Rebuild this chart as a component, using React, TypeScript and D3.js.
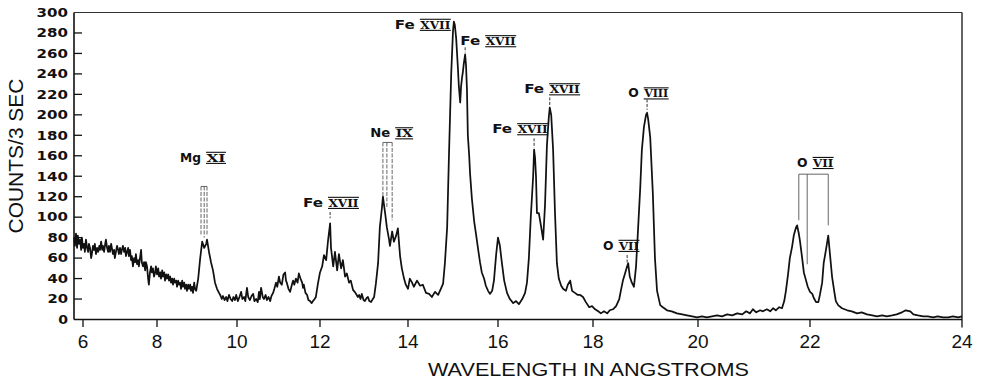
import React from "react";
import * as d3 from "d3";

// X-ray spectrum: counts per 3 s against wavelength in Å
const spectrumShort: [number, number][] = [
  [5.76, 80], [5.78, 72], [5.81, 84], [5.84, 70], [5.86, 82], [5.89, 74], [5.92, 78], [5.95, 68],
  [5.97, 80], [6.0, 70], [6.03, 74], [6.05, 66], [6.08, 78], [6.11, 70], [6.14, 66], [6.16, 74],
  [6.19, 70], [6.22, 60], [6.24, 64], [6.27, 72], [6.3, 68], [6.32, 74], [6.35, 64], [6.38, 70],
  [6.41, 66], [6.44, 72], [6.46, 68], [6.49, 76], [6.52, 68], [6.54, 72], [6.57, 66], [6.6, 74],
  [6.62, 78], [6.65, 70], [6.68, 66], [6.7, 72], [6.73, 66], [6.76, 74], [6.78, 70], [6.81, 64],
  [6.84, 68], [6.86, 60], [6.89, 66], [6.92, 72], [6.95, 68], [6.97, 64], [7.0, 70], [7.03, 64],
  [7.05, 68], [7.08, 72], [7.11, 66], [7.14, 70], [7.16, 62], [7.19, 66], [7.22, 70], [7.24, 62],
  [7.27, 68], [7.3, 58], [7.32, 62], [7.35, 52], [7.38, 60], [7.41, 56], [7.43, 64], [7.46, 54],
  [7.49, 58], [7.51, 52], [7.54, 60], [7.57, 68], [7.59, 56], [7.62, 52], [7.65, 56], [7.68, 48],
  [7.7, 56], [7.73, 52], [7.76, 40], [7.78, 34], [7.81, 46], [7.84, 52], [7.86, 46], [7.89, 50],
  [7.92, 42], [7.95, 46], [7.97, 52], [8.0, 44], [8.03, 50], [8.05, 42], [8.08, 46], [8.1, 40],
  [8.13, 48], [8.15, 42], [8.18, 46], [8.2, 38], [8.23, 44], [8.25, 40], [8.28, 44], [8.3, 38],
  [8.33, 42], [8.35, 36], [8.38, 40], [8.4, 34], [8.43, 40], [8.45, 36], [8.48, 38], [8.5, 32],
  [8.53, 38], [8.55, 34], [8.58, 36], [8.6, 30], [8.63, 38], [8.65, 32], [8.68, 36], [8.7, 30],
  [8.73, 34], [8.75, 28], [8.78, 34], [8.8, 30], [8.83, 34], [8.85, 28], [8.88, 32], [8.9, 26],
  [8.93, 36], [8.95, 30], [8.98, 28], [9.03, 40], [9.08, 60], [9.13, 76], [9.18, 70], [9.23, 74],
  [9.25, 78], [9.3, 66], [9.35, 56], [9.4, 48], [9.45, 36], [9.5, 30], [9.55, 26],
  [9.58, 24], [9.62, 20], [9.65, 23], [9.69, 19], [9.73, 22], [9.76, 18], [9.8, 24], [9.84, 20],
  [9.88, 18], [9.91, 22], [9.95, 19], [9.98, 24],
];

const spectrumMid: [number, number][] = [
  [10.02, 18], [10.06, 22], [10.1, 27], [10.13, 20], [10.17, 22], [10.2, 18], [10.24, 31], [10.27, 22],
  [10.31, 19], [10.35, 23], [10.39, 25], [10.42, 18], [10.46, 20], [10.5, 17], [10.53, 27], [10.55, 20],
  [10.58, 31], [10.62, 22], [10.65, 20], [10.69, 24], [10.72, 19], [10.76, 22], [10.8, 18], [10.83, 23],
  [10.87, 26], [10.9, 30], [10.94, 36], [10.97, 32], [11.01, 42], [11.04, 36], [11.08, 34], [11.12, 44],
  [11.16, 46], [11.18, 38], [11.2, 36], [11.24, 30], [11.28, 27], [11.31, 32], [11.35, 38], [11.38, 34],
  [11.42, 40], [11.46, 36], [11.49, 45], [11.53, 40], [11.57, 36], [11.59, 31], [11.61, 34], [11.65, 26],
  [11.69, 24], [11.72, 19], [11.76, 18], [11.8, 16], [11.83, 18], [11.87, 20], [11.9, 22], [11.95, 35],
  [12.0, 46], [12.05, 52], [12.09, 63], [12.14, 58], [12.18, 76], [12.23, 94], [12.25, 70], [12.3, 52],
  [12.34, 66], [12.39, 48], [12.43, 64], [12.48, 50], [12.52, 58], [12.57, 42], [12.61, 45], [12.66, 36],
  [12.7, 38], [12.75, 29], [12.79, 27], [12.82, 25], [12.86, 22], [12.89, 24], [12.92, 20], [12.95, 25],
  [12.99, 19], [13.02, 18], [13.06, 21], [13.09, 22], [13.12, 18], [13.16, 17], [13.2, 20],
  [13.23, 22], [13.27, 35], [13.32, 55], [13.36, 90], [13.41, 110], [13.43, 120], [13.48, 104], [13.52, 90],
  [13.57, 78], [13.59, 72], [13.64, 86], [13.68, 76], [13.73, 82], [13.77, 89], [13.82, 62], [13.86, 50],
  [13.91, 40], [13.95, 34],
  [14.0, 30], [14.04, 40], [14.09, 36], [14.13, 32], [14.2, 38], [14.27, 33], [14.33, 34], [14.4, 26],
  [14.47, 25], [14.53, 22], [14.6, 27], [14.67, 24], [14.73, 30], [14.78, 35], [14.82, 55], [14.87, 90],
  [14.91, 160], [14.96, 240], [15.0, 282], [15.02, 291], [15.04, 288], [15.07, 275], [15.11, 245], [15.13, 228],
  [15.16, 212], [15.18, 228], [15.2, 236], [15.22, 242], [15.24, 250], [15.27, 259], [15.29, 248], [15.31, 225],
  [15.33, 180], [15.36, 160], [15.38, 142], [15.42, 118], [15.47, 96], [15.51, 84], [15.56, 68], [15.6, 56],
  [15.64, 46], [15.69, 40], [15.73, 33], [15.78, 28], [15.82, 25], [15.87, 28], [15.91, 38], [15.96, 64],
];

const spectrumLong: [number, number][] = [
  [16.0, 80], [16.04, 72], [16.08, 56], [16.13, 38], [16.19, 26], [16.25, 20], [16.32, 16], [16.38, 18],
  [16.44, 15], [16.51, 20], [16.57, 26], [16.61, 36], [16.65, 60], [16.69, 100], [16.74, 140], [16.76, 166],
  [16.78, 158], [16.8, 140], [16.82, 104], [16.86, 104], [16.91, 90], [16.95, 78], [16.99, 112], [17.03, 170],
  [17.07, 198], [17.09, 207], [17.12, 200], [17.16, 166], [17.2, 104], [17.24, 55], [17.28, 40], [17.33, 33],
  [17.37, 30], [17.43, 28], [17.47, 34], [17.52, 38], [17.56, 28], [17.62, 26], [17.68, 24], [17.73, 24],
  [17.79, 22], [17.85, 17], [17.92, 12], [17.98, 13],
  [18.04, 10], [18.1, 8], [18.15, 6], [18.21, 8], [18.27, 6], [18.32, 9], [18.38, 10], [18.44, 13],
  [18.5, 20], [18.53, 28], [18.57, 38], [18.61, 45], [18.65, 52], [18.67, 55], [18.7, 42], [18.74, 36],
  [18.78, 32], [18.82, 52], [18.86, 90], [18.9, 129], [18.93, 165], [18.97, 188], [19.01, 200], [19.03, 202],
  [19.05, 196], [19.09, 178], [19.12, 145], [19.14, 123], [19.18, 60], [19.22, 28], [19.28, 14], [19.33, 12],
  [19.41, 9], [19.5, 8], [19.6, 6], [19.7, 5], [19.79, 4], [19.89, 3], [19.98, 2],
  [20.07, 3], [20.16, 2], [20.25, 3], [20.34, 4], [20.43, 3], [20.52, 5], [20.61, 4], [20.7, 6],
  [20.79, 5], [20.86, 8], [20.93, 6], [20.98, 10], [21.04, 7], [21.11, 9], [21.16, 8], [21.23, 10],
  [21.29, 8], [21.34, 11], [21.39, 9], [21.45, 12], [21.5, 11], [21.54, 18], [21.57, 28], [21.61, 45],
  [21.64, 60], [21.68, 71], [21.71, 82], [21.75, 90], [21.77, 92], [21.8, 84], [21.82, 77], [21.86, 60],
  [21.89, 46], [21.93, 38], [21.96, 32],
  [22.0, 27], [22.03, 25], [22.05, 21], [22.08, 17], [22.11, 17], [22.13, 24], [22.16, 36], [22.18, 55],
  [22.21, 68], [22.24, 82], [22.26, 66], [22.29, 42], [22.32, 27], [22.34, 18], [22.37, 14], [22.42, 11],
  [22.49, 9], [22.55, 8], [22.62, 6], [22.68, 7], [22.75, 5], [22.82, 4], [22.88, 3], [22.95, 4],
  [23.01, 3], [23.08, 4], [23.14, 5], [23.21, 7], [23.26, 9], [23.32, 8], [23.36, 5], [23.42, 4],
  [23.49, 3], [23.55, 3], [23.62, 2], [23.68, 3], [23.75, 2], [23.82, 2], [23.88, 3], [23.95, 2],
  [24.0, 3],
];

const xTickValues = [6, 8, 10, 12, 14, 16, 18, 20, 22, 24];
const yTickValues = [0, 20, 40, 60, 80, 100, 120, 140, 160, 180, 200, 220, 240, 260, 280, 300];

// Ion identifications: element, ionisation stage, label anchor (Å, counts)
const ionLabels: { el: string; stage: string; at: [number, number] }[] = [
  { el: "Mg", stage: "XI", at: [8.575, 154] },
  { el: "Fe", stage: "XVII", at: [11.59, 110] },
  { el: "Ne", stage: "IX", at: [13.14, 178] },
  { el: "Fe", stage: "XVII", at: [13.7, 284] },
  { el: "Fe", stage: "XVII", at: [15.16, 268] },
  { el: "Fe", stage: "XVII", at: [15.87, 182] },
  { el: "Fe", stage: "XVII", at: [16.55, 221] },
  { el: "O", stage: "VII", at: [18.19, 68] },
  { el: "O", stage: "VIII", at: [18.67, 217] },
  { el: "O", stage: "VII", at: [21.77, 149] },
];

// Single-line markers: wavelength, upper and lower count
const lineMarks: [number, number, number][] = [
  [12.23, 105, 99],
  [15.27, 266, 261],
  [16.76, 177, 168],
  [17.09, 217, 208],
  [18.65, 63, 55],
  [19.03, 215, 205],
];

// Multiplet brackets: component wavelengths, bracket top, lower end of each leg
const multiplets: { lines: number[]; top: number; ends: number[] }[] = [
  { lines: [9.1, 9.18, 9.25], top: 130, ends: [82, 80, 82] },
  { lines: [13.43, 13.52, 13.64], top: 173, ends: [120, 110, 97] },
  { lines: [21.8, 21.95, 22.24], top: 142, ends: [97, 54, 92] },
];

const W = 981;
const H = 383;
const plotLeft = 74;
const plotRight = 962;
const plotTop = 12.5;
const plotBottom = 319.5;
// positions of the printed wavelength ticks along the (non-uniform) scale
const axisStops = [83, 157, 237, 320, 408, 498, 593, 698, 810, 962];

const prefixWidth: Record<string, number> = { Fe: 20, Ne: 20, Mg: 21, O: 10.5 };
const stageWidth: Record<string, number> = { XVII: 30, IX: 17, XI: 19, VIII: 24, VII: 20 };

const sans = "'DejaVu Sans', 'Liberation Sans', sans-serif";
const plain = "'Liberation Sans', Arial, sans-serif";
const serif = "'DejaVu Serif', 'Liberation Serif', serif";

export default function App() {
  const x = d3.scaleLinear().domain(xTickValues).range(axisStops);
  const y = d3.scaleLinear().domain([0, 300]).range([plotBottom, plotTop]);
  const spectrum = [...spectrumShort, ...spectrumMid, ...spectrumLong];
  const path = d3
    .line<[number, number]>()
    .x((d) => x(d[0]))
    .y((d) => y(d[1]))(spectrum) as string;

  const ink = "#111";

  return (
    <svg
      width={W}
      height={H}
      viewBox={`0 0 ${W} ${H}`}
      style={{ position: "absolute", left: 0, top: 0, background: "#fff" }}
    >
      <rect x={0} y={0} width={W} height={H} fill="#fff" />

      {/* frame */}
      <line x1={plotLeft} x2={plotRight} y1={plotTop} y2={plotTop} stroke="#333" strokeWidth={1.2} />
      <line x1={plotRight} x2={plotRight} y1={plotTop} y2={plotBottom + 8} stroke={ink} strokeWidth={1.3} />
      <line x1={plotLeft} x2={plotLeft} y1={plotTop} y2={plotBottom} stroke={ink} strokeWidth={1.6} />
      <line x1={plotLeft} x2={plotRight} y1={plotBottom} y2={plotBottom} stroke={ink} strokeWidth={1.6} />

      {/* y axis */}
      {yTickValues.map((v) => {
        const s = String(v);
        const len = s.length * 10.8 - 1;
        return (
          <g key={`y${v}`}>
            {v > 0 && v < 300 && (
              <line x1={plotLeft} x2={plotLeft + 8} y1={y(v)} y2={y(v)} stroke={ink} strokeWidth={1.3} />
            )}
            <text
              x={68 - len}
              y={y(v) + 4.3}
              fontFamily={sans}
              fontWeight="bold"
              fontSize={11.5}
              textLength={len}
              lengthAdjust="spacingAndGlyphs"
              fill={ink}
            >
              {s}
            </text>
          </g>
        );
      })}
      <text
        transform={`translate(23, 156) rotate(-90)`}
        textAnchor="middle"
        fontFamily={plain}
        fontSize={20.5}
        textLength={155}
        lengthAdjust="spacingAndGlyphs"
        fill={ink}
      >
        COUNTS/3 SEC
      </text>

      {/* x axis */}
      {xTickValues.map((v) => (
        <g key={`x${v}`}>
          {v < 24 && (
            <line x1={x(v)} x2={x(v)} y1={plotBottom} y2={plotBottom + 7.5} stroke={ink} strokeWidth={1.3} />
          )}
          <text x={x(v)} y={348} textAnchor="middle" fontFamily={plain} fontSize={19} fill={ink}>
            {v}
          </text>
        </g>
      ))}
      <text
        x={428}
        y={375.5}
        fontFamily={plain}
        fontSize={18}
        textLength={321}
        lengthAdjust="spacingAndGlyphs"
        fill={ink}
      >
        WAVELENGTH IN ANGSTROMS
      </text>

      {/* spectrum */}
      <path d={path} fill="none" stroke={ink} strokeWidth={1.75} strokeLinejoin="round" />

      {/* multiplet brackets */}
      {multiplets.map((m, i) => (
        <g key={`m${i}`} stroke="#555" strokeWidth={0.9} fill="none">
          <line x1={x(m.lines[0])} x2={x(m.lines[m.lines.length - 1])} y1={y(m.top)} y2={y(m.top)} />
          {m.lines.map((w, j) => (
            <line key={j} x1={x(w)} x2={x(w)} y1={y(m.top)} y2={y(m.ends[j])} strokeDasharray={i === 2 ? undefined : "4 1.5"} />
          ))}
        </g>
      ))}

      {/* single-line markers */}
      {lineMarks.map(([w, a, b], i) => (
        <line key={`l${i}`} x1={x(w)} x2={x(w)} y1={y(a)} y2={y(b)} stroke="#333" strokeWidth={1} strokeDasharray="3 1.5" />
      ))}

      {/* ion labels */}
      {ionLabels.map((l, i) => {
        const x0 = x(l.at[0]);
        const y0 = y(l.at[1]);
        const pw = prefixWidth[l.el];
        const sw = stageWidth[l.stage];
        const sx = x0 + pw + 5.5;
        return (
          <g key={`ion${i}`} fill={ink}>
            <text
              x={x0}
              y={y0}
              fontFamily={sans}
              fontWeight="bold"
              fontSize={11.5}
              textLength={pw}
              lengthAdjust="spacingAndGlyphs"
            >
              {l.el}
            </text>
            <text
              x={sx}
              y={y0}
              fontFamily={serif}
              fontWeight="bold"
              fontSize={11.5}
              textLength={sw}
              lengthAdjust="spacingAndGlyphs"
            >
              {l.stage}
            </text>
            <line x1={sx - 0.5} x2={sx + sw + 0.5} y1={y0 - 9.6} y2={y0 - 9.6} stroke={ink} strokeWidth={1.1} />
            <line x1={sx - 0.5} x2={sx + sw + 0.5} y1={y0 + 1.5} y2={y0 + 1.5} stroke={ink} strokeWidth={1.1} />
          </g>
        );
      })}
    </svg>
  );
}
